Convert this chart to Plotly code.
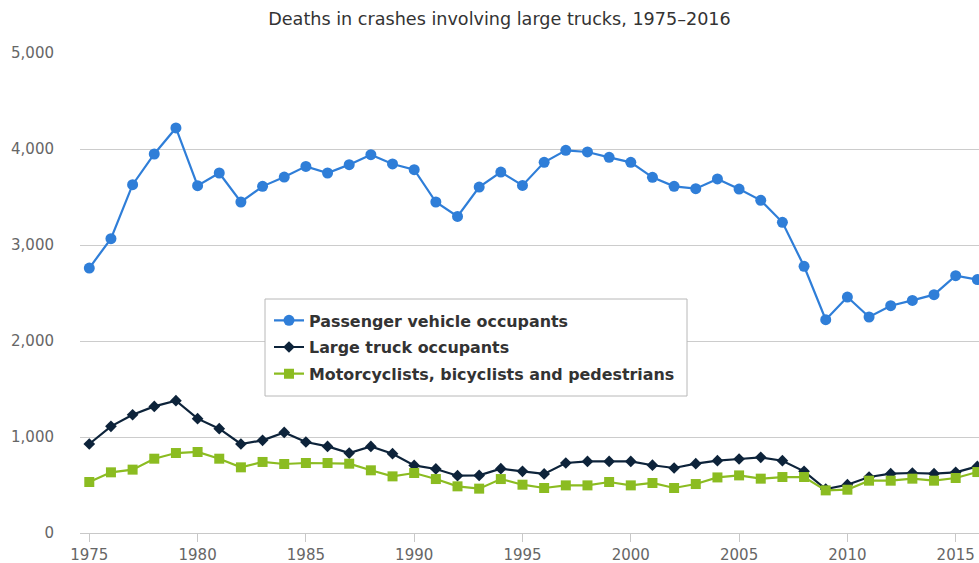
import plotly.graph_objects as go

years = list(range(1975, 2017))

passenger = [2760, 3066, 3628, 3948, 4219, 3618, 3750, 3448, 3611, 3708,
             3819, 3750, 3837, 3941, 3844, 3785, 3448, 3298, 3604, 3760,
             3621, 3861, 3986, 3969, 3913, 3861, 3705, 3611, 3587, 3688,
             3583, 3465, 3236, 2778, 2222, 2458, 2250, 2368, 2423, 2483,
             2680, 2640]

truck = [927, 1111, 1232, 1319, 1378, 1191, 1087, 927, 965, 1048,
         948, 902, 833, 902, 826, 704, 667, 597, 600, 670,
         642, 615, 729, 746, 746, 746, 706, 677, 722, 753,
         771, 788, 753, 642, 458, 503, 583, 618, 625, 618,
         632, 694]

others = [531, 632, 660, 774, 833, 844, 774, 684, 740, 719,
          729, 729, 722, 653, 590, 625, 562, 486, 462, 562,
          503, 469, 496, 496, 531, 496, 521, 469, 510, 579,
          600, 566, 583, 583, 444, 451, 545, 545, 566, 545,
          573, 635]

series_names = ["Passenger vehicle occupants",
                "Large truck occupants",
                "Motorcyclists, bicyclists and pedestrians"]
series_values = [passenger, truck, others]
colors = ["#2f7ed8", "#0d233a", "#8bbc21"]
symbols = ["circle", "diamond", "square"]
sizes = [11, 9, 10]

x_ticks = list(range(1975, 2020, 5))
y_ticks = [0, 1000, 2000, 3000, 4000, 5000]

FONT = "DejaVu Sans"

W, H = 979, 563
ML, MT, MB = 80, 53, 30
PW, PH = W - ML, H - MT - MB


def px_x(px):
    return (px - ML) / PW


def px_y(py):
    return (H - MB - py) / PH


fig = go.Figure()
for name, vals, col, sym, sz in zip(series_names, series_values, colors, symbols, sizes):
    fig.add_trace(go.Scatter(
        x=years, y=vals, name=name, mode="lines+markers",
        line=dict(color=col, width=2.2),
        marker=dict(color=col, symbol=sym, size=sz),
        legendgroup=name,
    ))

# legend frame
fig.add_shape(type="rect", xref="paper", yref="paper",
              x0=px_x(265), x1=px_x(687), y0=px_y(396), y1=px_y(299),
              fillcolor="white", line=dict(color="#b8b8b8", width=1),
              layer="above")

fig.update_layout(
    width=W, height=H,
    margin=dict(l=ML, r=0, t=MT, b=MB),
    paper_bgcolor="white", plot_bgcolor="white",
    font=dict(family=FONT, color="#666666", size=13),
    title=dict(text="Deaths in crashes involving large trucks, 1975–2016",
               x=499.5 / W, xref="container", xanchor="center",
               y=1 - 19 / H, yref="container", yanchor="middle",
               font=dict(family=FONT, size=17.6, color="#333333")),
    showlegend=True,
    legend=dict(x=px_x(269), y=px_y(303.5),
                xanchor="left", yanchor="top",
                bgcolor="rgba(0,0,0,0)", borderwidth=0,
                font=dict(family=FONT, size=15.9, color="#333333", weight="bold"),
                traceorder="grouped", tracegroupgap=3),
    xaxis=dict(range=[1974.571, 2016.076], tickvals=x_ticks,
               showgrid=False, zeroline=False, automargin=False,
               showline=True, linecolor="#c8c8c8", linewidth=1,
               ticks="outside", ticklen=8, tickcolor="#c8c8c8", tickwidth=1,
               tickfont=dict(family=FONT, size=15, color="#666666")),
    yaxis=dict(range=[0, 5000], tickvals=y_ticks, tickformat=",d",
               showgrid=True, gridcolor="#cccccc", gridwidth=1,
               zeroline=False, showline=False, automargin=False,
               ticks="outside", ticklen=22, tickcolor="rgba(0,0,0,0)",
               tickfont=dict(family=FONT, size=15, color="#666666")),
)

fig.write_html("out.html",
               config={"displayModeBar": False},
               post_script="document.body.style.margin='0';document.body.style.overflow='hidden';")
